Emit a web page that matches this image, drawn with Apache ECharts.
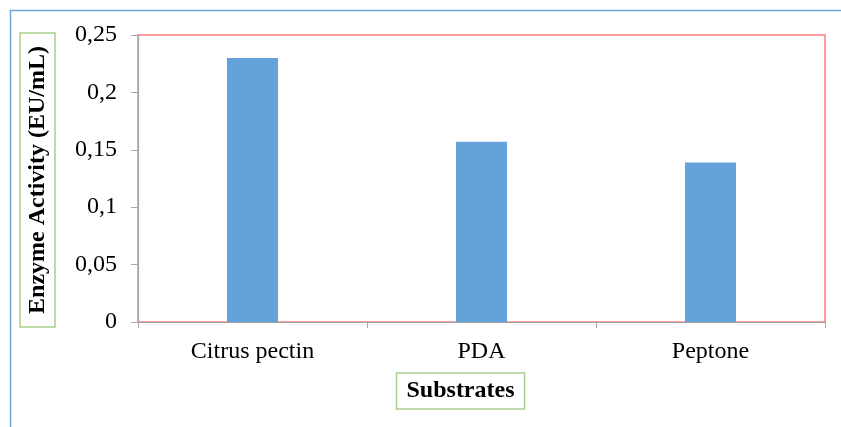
<!DOCTYPE html>
<html>
<head>
<meta charset="utf-8">
<script src="https://cdn.jsdelivr.net/npm/echarts@6/dist/echarts.min.js"></script>
<style>html,body{margin:0;padding:0;background:#fff}#c{width:841px;height:427px}</style>
</head>
<body>
<div id="c"></div>
<script>
const categories = ['Citrus pectin', 'PDA', 'Peptone'];
const activity = [0.230, 0.157, 0.139];
const yTitle = 'Enzyme Activity (EU/mL)';
const xTitle = 'Substrates';

const chart = echarts.init(document.getElementById('c'), null, {renderer: 'canvas'});
const font = '"Liberation Serif", "Times New Roman", serif';
chart.setOption({
  animation: false,
  grid: {left: 138, top: 35, right: 16, bottom: 105, show: true, borderColor: '#ff7c80', borderWidth: 1.5, backgroundColor: 'transparent'},
  xAxis: {
    type: 'category', data: categories,
    axisLine: {lineStyle: {color: '#a6a6a6', width: 1.2}},
    axisTick: {show: true, length: 6, lineStyle: {color: '#a6a6a6'}},
    axisLabel: {color: '#000', fontFamily: font, fontSize: 24, margin: 18}
  },
  yAxis: {
    type: 'value', min: 0, max: 0.25, interval: 0.05,
    axisLine: {show: true, lineStyle: {color: '#a6a6a6', width: 1.2}},
    axisTick: {show: true, length: 7, lineStyle: {color: '#a6a6a6'}},
    splitLine: {show: false},
    axisLabel: {color: '#000', fontFamily: font, fontSize: 24, margin: 21,
      formatter: v => String(+v.toFixed(2)).replace('.', ',')}
  },
  series: [{type: 'bar', data: activity, barWidth: '22.3%', itemStyle: {color: '#65a2d9'}}],
  graphic: [
    {type: 'rect', left: 8, top: 8, shape: {width: 1000, height: 600}, style: {fill: 'none', stroke: '#6fa8dc', lineWidth: 1.5}, silent: true},
    {type: 'text', x: 37.5, y: 180, rotation: Math.PI / 2,
      style: {text: yTitle, font: 'bold 24px ' + font, fill: '#000', align: 'center', verticalAlign: 'middle',
        borderColor: '#a9d08e', borderWidth: 1.5, padding: [5, 13, 6, 13]}},
    {type: 'text', x: 460.5, y: 391,
      style: {text: xTitle, font: 'bold 24px ' + font, fill: '#000', align: 'center', verticalAlign: 'middle',
        borderColor: '#a9d08e', borderWidth: 1.5, padding: [6, 10, 6, 10]}}
  ]
});
</script>
</body>
</html>
